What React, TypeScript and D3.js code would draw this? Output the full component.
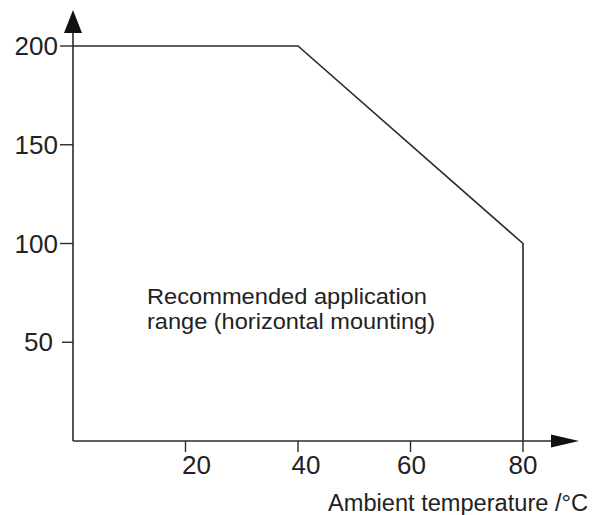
import React from "react";
import * as d3 from "d3";

// Data
const boundaryTemp = [0, 40, 80, 80];
const boundaryValue = [200, 200, 100, 0];
const xTicks = [20, 40, 60, 80];
const xTickLabels = ["20", "40", "60", "80"];
const yTicks = [50, 100, 150, 200];
const yTickLabels = ["50", "100", "150", "200"];
const xAxisTitle = "Ambient temperature /°C";
const noteLines = ["Recommended application", "range (horizontal mounting)"];

// Layout (not data)
const W = 595;
const H = 515;
const X0 = 73;
const X1 = 523;
const Y0 = 441;
const Y1 = 46;
const xLabelDx = [11, 8, 1, 0];
const yLabelRight = [53, 58, 58, 58];
const yTickLen = [11, 13, 13, 13];
const INK = "#2a2a2a";
const FONT = "'Liberation Sans', Arial, Helvetica, sans-serif";

export default function App() {
  const x = d3.scaleLinear().domain([0, 80]).range([X0, X1]);
  const y = d3.scaleLinear().domain([0, 200]).range([Y0, Y1]);
  const pts: [number, number][] = boundaryTemp.map((t, i) => [t, boundaryValue[i]]);
  const line = d3
    .line<[number, number]>()
    .x((d) => x(d[0]))
    .y((d) => y(d[1]));

  return (
    <svg
      width={W}
      height={H}
      style={{ position: "absolute", left: 0, top: 0, background: "#fff" }}
      fontFamily={FONT}
    >
      <rect x={0} y={0} width={W} height={H} fill="#fff" />
      {/* boundary curve */}
      <path d={line(pts) || ""} fill="none" stroke={INK} strokeWidth={1.6} />
      {/* y axis */}
      <line x1={X0} y1={Y0} x2={X0} y2={30} stroke={INK} strokeWidth={1.6} />
      <path d={`M${X0},10 L${X0 + 9},33 L${X0 - 9},33 Z`} fill="#111" />
      {/* x axis */}
      <line x1={X0} y1={Y0} x2={555} y2={Y0} stroke={INK} strokeWidth={1.6} />
      <path d={`M579,${Y0} L551,${Y0 - 6.5} L551,${Y0 + 6.5} Z`} fill="#111" />
      {/* y ticks */}
      {yTicks.map((v, i) => (
        <g key={"y" + v}>
          <line
            x1={X0 - yTickLen[i]}
            x2={X0}
            y1={y(v)}
            y2={y(v)}
            stroke={INK}
            strokeWidth={1.4}
          />
          <text
            x={yLabelRight[i]}
            y={y(v) + 9}
            textAnchor="end"
            fontSize={26}
            fill="#222"
          >
            {yTickLabels[i]}
          </text>
        </g>
      ))}
      {/* x ticks */}
      {xTicks.map((v, i) => (
        <g key={"x" + v}>
          <line
            x1={x(v)}
            x2={x(v)}
            y1={Y0}
            y2={Y0 + 11}
            stroke={INK}
            strokeWidth={1.4}
          />
          <text
            x={x(v) + xLabelDx[i]}
            y={474}
            textAnchor="middle"
            fontSize={26}
            fill="#222"
          >
            {xTickLabels[i]}
          </text>
        </g>
      ))}
      <text x={328} y={511} fontSize={23} fill="#222" textLength={260} lengthAdjust="spacingAndGlyphs">
        {xAxisTitle}
      </text>
      <text x={147} y={304} fontSize={22} fill="#222" textLength={280} lengthAdjust="spacingAndGlyphs">
        {noteLines[0]}
      </text>
      <text x={147} y={329} fontSize={22} fill="#222" textLength={288} lengthAdjust="spacingAndGlyphs">
        {noteLines[1]}
      </text>
    </svg>
  );
}
